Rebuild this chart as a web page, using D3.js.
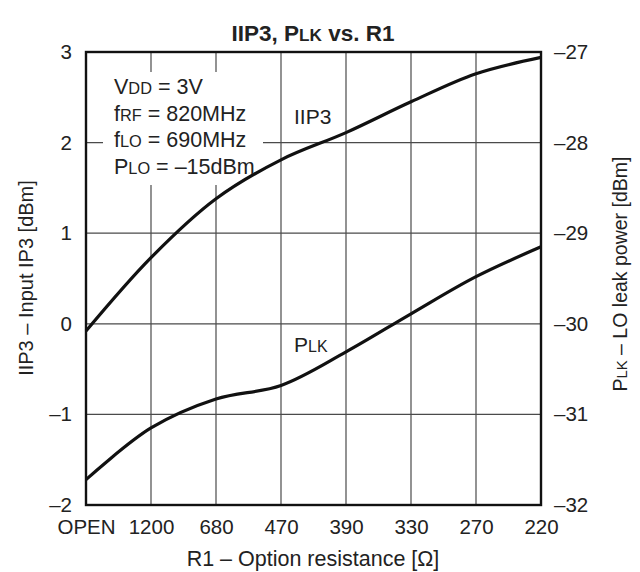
<!DOCTYPE html>
<html>
<head>
<meta charset="utf-8">
<script src="https://cdn.jsdelivr.net/npm/d3@7"></script>
<style>
  html, body { margin: 0; padding: 0; background: #fff; }
  svg { display: block; font-family: "Liberation Sans", Arial, Helvetica, sans-serif; }
</style>
</head>
<body>
<svg id="chart" width="640" height="572"></svg>
<script>
// R1 settings along the x axis
const resistors = ["OPEN", "1200", "680", "470", "390", "330", "270", "220"];
// Input IP3 [dBm] at each R1 setting (left axis)
const iip3 = [-0.08, 0.73, 1.38, 1.81, 2.11, 2.45, 2.76, 2.94];
// LO leak power [dBm] at each R1 setting (right axis)
const plk = [-31.72, -31.15, -30.83, -30.68, -30.31, -29.89, -29.48, -29.15];
// Axis ticks
const leftTicks = [3, 2, 1, 0, -1, -2];
const rightTicks = [-27, -28, -29, -30, -31, -32];

const svg = d3.select("#chart");
const m = { left: 86, right: 541, top: 52, bottom: 505 };
const FS = 20.5;

const x = d3.scalePoint().domain(resistors).range([m.left, m.right]);
const yL = d3.scaleLinear().domain([-2, 3]).range([m.bottom, m.top]);
const yR = d3.scaleLinear().domain([-32, -27]).range([m.bottom, m.top]);

const fmt = v => (v < 0 ? "\u2013" + Math.abs(v) : String(v));

// grid
const grid = svg.append("g").attr("stroke", "#4a4a4a").attr("stroke-width", 1.2);
grid.selectAll("line.v").data(resistors.slice(1, -1)).join("line")
  .attr("x1", d => x(d)).attr("x2", d => x(d))
  .attr("y1", m.top).attr("y2", m.bottom);
grid.selectAll("line.h").data(leftTicks.slice(1, -1)).join("line")
  .attr("x1", m.left).attr("x2", m.right)
  .attr("y1", d => yL(d)).attr("y2", d => yL(d));

// white panel behind the operating conditions
svg.append("rect").attr("x", 103).attr("y", 72).attr("width", 160).attr("height", 113)
  .attr("fill", "#fff");

// curves
const line = (ys, data) => d3.line()
  .x((d, i) => x(resistors[i]))
  .y(d => ys(d))
  .curve(d3.curveCatmullRom.alpha(0.5))(data);

svg.append("path").attr("d", line(yL, iip3))
  .attr("fill", "none").attr("stroke", "#111").attr("stroke-width", 3.2);
svg.append("path").attr("d", line(yR, plk))
  .attr("fill", "none").attr("stroke", "#111").attr("stroke-width", 3.2);

// frame
svg.append("rect").attr("x", m.left).attr("y", m.top)
  .attr("width", m.right - m.left).attr("height", m.bottom - m.top)
  .attr("fill", "none").attr("stroke", "#111").attr("stroke-width", 2.4);

// axes (labels only; frame drawn above)
const axL = svg.append("g").attr("transform", `translate(${m.left},0)`)
  .call(d3.axisLeft(yL).tickValues(leftTicks).tickFormat(fmt).tickSize(0).tickPadding(14));
const axR = svg.append("g").attr("transform", `translate(${m.right},0)`)
  .call(d3.axisRight(yR).tickValues(rightTicks).tickFormat(fmt).tickSize(0).tickPadding(13));
const axB = svg.append("g").attr("transform", `translate(0,${m.bottom})`)
  .call(d3.axisBottom(x).tickSize(0).tickPadding(12));
[axL, axR, axB].forEach(a => {
  a.select(".domain").remove();
  a.selectAll("text").attr("font-size", FS).attr("fill", "#222")
    .attr("font-family", "'Liberation Sans', Arial, sans-serif");
});
axB.selectAll("text").attr("dy", "0.85em");

// text helper for labels with small-capital parts
function rich(g, parts, attrs, size) {
  const t = g.append("text").attr("font-size", size).attr("fill", "#222");
  Object.entries(attrs).forEach(([k, v]) => t.attr(k, v));
  parts.forEach(([s, small]) => t.append("tspan")
    .attr("font-size", small ? size * 0.76 : size).text(s));
  return t;
}

// title
rich(svg, [["IIP3, P"], ["LK", true], [" vs. R1"]],
  { x: 313, y: 41, "text-anchor": "middle", "font-weight": "bold" }, 22.5);

// axis titles
rich(svg, [["R1 \u2013 Option resistance [\u03A9]"]], { x: 313, y: 566, "text-anchor": "middle" }, 21.5);
rich(svg, [["IIP3 \u2013 Input IP3 [dBm]"]],
  { transform: "translate(33,278) rotate(-90)", "text-anchor": "middle" }, 20);
rich(svg, [["P"], ["LK", true], [" \u2013 LO leak power [dBm]"]],
  { transform: "translate(627,274) rotate(-90)", "text-anchor": "middle" }, 19.5);

// operating conditions
const cond = [
  [["V"], ["DD", true], [" = 3V"]],
  [["f"], ["RF", true], [" = 820MHz"]],
  [["f"], ["LO", true], [" = 690MHz"]],
  [["P"], ["LO", true], [" = \u201315dBm"]]
];
cond.forEach((p, i) => rich(svg, p, { x: 114, y: 94 + i * 26.5 }, 21.5));

// series labels
rich(svg, [["IIP3"]], { x: 294, y: 124 }, 21);
rich(svg, [["P"], ["LK", true]], { x: 294, y: 352 }, 21);
</script>
</body>
</html>
